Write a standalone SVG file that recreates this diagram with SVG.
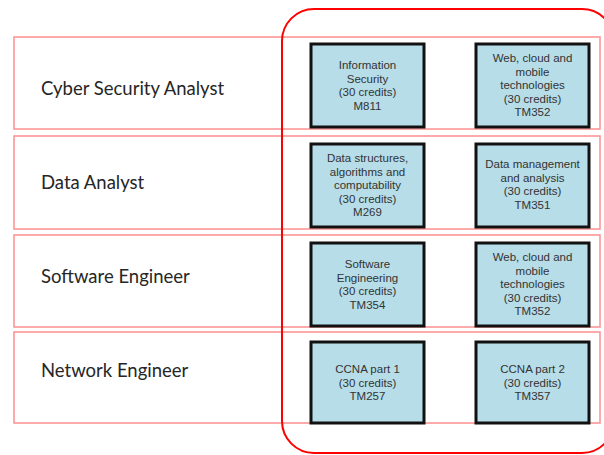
<svg xmlns="http://www.w3.org/2000/svg" width="604" height="455" viewBox="0 0 604 455">
<style>
.row{fill:none;stroke:#ff8f8f;stroke-width:1.5}
.lbl{font-family:Lato,"Open Sans",sans-serif;font-size:18.5px;fill:#262626}
.box{fill:#b7dde8;stroke:#111;stroke-width:3}
.bt{font-family:"Liberation Sans",Arial,sans-serif;font-size:11.5px;fill:#333;text-anchor:middle}
.outer{fill:none;stroke:#ff0000;stroke-width:2}
</style>
<rect width="604" height="455" fill="#fff"/>
<g id="row-cyber"><rect class="row" x="14" y="37" width="586" height="92"/><text class="lbl" x="41" y="95">Cyber Security Analyst</text></g>
<g id="row-data"><rect class="row" x="14" y="136" width="586" height="93"/><text class="lbl" x="41" y="189">Data Analyst</text></g>
<g id="row-software"><rect class="row" x="14" y="235" width="586" height="92"/><text class="lbl" x="41" y="283">Software Engineer</text></g>
<g id="row-network"><rect class="row" x="14" y="332" width="586" height="91"/><text class="lbl" x="41" y="377">Network Engineer</text></g>
<g id="group-outline"><rect class="outer" x="282" y="9" width="332" height="444" rx="32" ry="32"/></g>
<g id="m811"><rect class="box" x="311" y="44" width="113" height="83"/>
<text class="bt" x="367.5" y="69">Information</text><text class="bt" x="367.5" y="82.5">Security</text><text class="bt" x="367.5" y="96">(30 credits)</text><text class="bt" x="367.5" y="109.5">M811</text></g>
<g id="tm352a"><rect class="box" x="476" y="44" width="113" height="83"/>
<text class="bt" x="532.5" y="62">Web, cloud and</text><text class="bt" x="532.5" y="75.5">mobile</text><text class="bt" x="532.5" y="89">technologies</text><text class="bt" x="532.5" y="102.5">(30 credits)</text><text class="bt" x="532.5" y="116">TM352</text></g>
<g id="m269"><rect class="box" x="311" y="144" width="113" height="83"/>
<text class="bt" x="367.5" y="162">Data structures,</text><text class="bt" x="367.5" y="175.5">algorithms and</text><text class="bt" x="367.5" y="189">computability</text><text class="bt" x="367.5" y="202.5">(30 credits)</text><text class="bt" x="367.5" y="216">M269</text></g>
<g id="tm351"><rect class="box" x="476" y="144" width="113" height="83"/>
<text class="bt" x="532.5" y="168">Data management</text><text class="bt" x="532.5" y="181.5">and analysis</text><text class="bt" x="532.5" y="195">(30 credits)</text><text class="bt" x="532.5" y="208.5">TM351</text></g>
<g id="tm354"><rect class="box" x="311" y="243" width="113" height="83"/>
<text class="bt" x="367.5" y="268">Software</text><text class="bt" x="367.5" y="281.5">Engineering</text><text class="bt" x="367.5" y="295">(30 credits)</text><text class="bt" x="367.5" y="308.5">TM354</text></g>
<g id="tm352b"><rect class="box" x="476" y="243" width="113" height="83"/>
<text class="bt" x="532.5" y="261">Web, cloud and</text><text class="bt" x="532.5" y="274.5">mobile</text><text class="bt" x="532.5" y="288">technologies</text><text class="bt" x="532.5" y="301.5">(30 credits)</text><text class="bt" x="532.5" y="315">TM352</text></g>
<g id="tm257"><rect class="box" x="311" y="342" width="113" height="81"/>
<text class="bt" x="367.5" y="373">CCNA part 1</text><text class="bt" x="367.5" y="386.5">(30 credits)</text><text class="bt" x="367.5" y="400">TM257</text></g>
<g id="tm357"><rect class="box" x="476" y="342" width="113" height="81"/>
<text class="bt" x="532.5" y="373">CCNA part 2</text><text class="bt" x="532.5" y="386.5">(30 credits)</text><text class="bt" x="532.5" y="400">TM357</text></g>
<g id="connectors"/>
</svg>
